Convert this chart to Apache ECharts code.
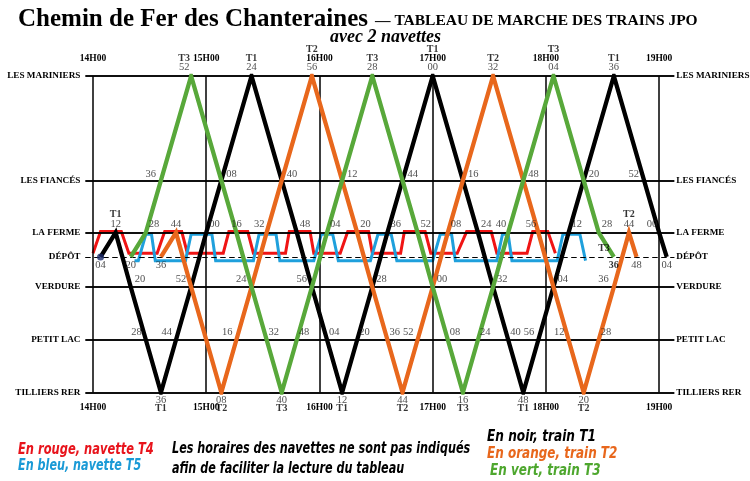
<!DOCTYPE html>
<html><head><meta charset="utf-8">
<script src="https://cdn.jsdelivr.net/npm/echarts@6/dist/echarts.min.js"></script>
<style>html,body{margin:0;padding:0;background:#fff}#c{width:750px;height:481px}</style>
</head><body><div id="c"></div>
<script>
// ---- stations (distance along the line, Tilliers RER = 0) ----
const stationKeys  = ['TIL', 'PL', 'VER', 'DEP', 'FER', 'FIA', 'MAR'];
const stationNames = ['TILLIERS RER', 'PETIT LAC', 'VERDURE', 'DÉPÔT', 'LA FERME', 'LES FIANCÉS', 'LES MARINIERS'];
const stationDist  = [0, 1, 2, 2.57, 3.03, 4.02, 6];
const hourTicks  = ['14:00', '15:00', '16:00', '17:00', '18:00', '19:00'];
const hourLabels = ['14H00', '15H00', '16H00', '17H00', '18H00', '19H00'];

// ---- trains: [time, station] ----
const trainT1 = [['14:04','DEP'],['14:12','FER'],['14:20','VER'],['14:28','PL'],['14:36','TIL'],['14:44','PL'],['14:52','VER'],['15:00','FER'],['15:08','FIA'],['15:24','MAR'],['15:40','FIA'],['15:48','FER'],['15:56','VER'],['16:04','PL'],['16:12','TIL'],['16:20','PL'],['16:28','VER'],['16:36','FER'],['16:44','FIA'],['17:00','MAR'],['17:16','FIA'],['17:24','FER'],['17:32','VER'],['17:40','PL'],['17:48','TIL'],['17:56','PL'],['18:04','VER'],['18:12','FER'],['18:20','FIA'],['18:36','MAR'],['18:52','FIA'],['19:00','FER'],['19:04','DEP']];
const trainT2 = [['14:36','DEP'],['14:44','FER'],['14:52','VER'],['15:00','PL'],['15:08','TIL'],['15:16','PL'],['15:24','VER'],['15:32','FER'],['15:40','FIA'],['15:56','MAR'],['16:12','FIA'],['16:20','FER'],['16:28','VER'],['16:36','PL'],['16:44','TIL'],['16:52','PL'],['17:00','VER'],['17:08','FER'],['17:16','FIA'],['17:32','MAR'],['17:48','FIA'],['17:56','FER'],['18:04','VER'],['18:12','PL'],['18:20','TIL'],['18:28','PL'],['18:36','VER'],['18:44','FER'],['18:48','DEP']];
const trainT3 = [['14:20','DEP'],['14:28','FER'],['14:36','FIA'],['14:52','MAR'],['15:08','FIA'],['15:16','FER'],['15:24','VER'],['15:32','PL'],['15:40','TIL'],['15:48','PL'],['15:56','VER'],['16:04','FER'],['16:12','FIA'],['16:28','MAR'],['16:44','FIA'],['16:52','FER'],['17:00','VER'],['17:08','PL'],['17:16','TIL'],['17:24','PL'],['17:32','VER'],['17:40','FER'],['17:48','FIA'],['18:04','MAR'],['18:20','FIA'],['18:28','FER'],['18:36','DEP']];

// ---- shuttles (times) ----
const shuttleT4 = [['14:00','DEP'],['14:04','FER'],['14:15','FER'],['14:19','DEP'],['14:34','DEP'],['14:38','FER'],['14:47','FER'],['14:50','DEP'],['15:09','DEP'],['15:12','FER'],['15:22','FER'],['15:25','DEP'],['15:42','DEP'],['15:44','FER'],['15:55','FER'],['15:57','DEP'],['16:11','DEP'],['16:15','FER'],['16:26','FER'],['16:28','DEP'],['16:43','DEP'],['16:45','FER'],['16:56','FER'],['16:59','DEP'],['17:13','DEP'],['17:18','FER'],['17:31','FER'],['17:34','DEP'],['17:50','DEP'],['17:53','FER'],['18:01','FER'],['18:05','DEP']];
const shuttleT5 = [['14:22','DEP'],['14:24','DEP'],['14:28','FER'],['14:31','FER'],['14:33','DEP'],['14:49','DEP'],['14:52','FER'],['15:03','FER'],['15:05','DEP'],['15:25','DEP'],['15:28','FER'],['15:37','FER'],['15:39','DEP'],['15:57','DEP'],['16:01','FER'],['16:07','FER'],['16:10','DEP'],['16:27','DEP'],['16:31','FER'],['16:38','FER'],['16:41','DEP'],['17:00','DEP'],['17:04','FER'],['17:10','FER'],['17:12','DEP'],['17:34','DEP'],['17:37','FER'],['17:40','FER'],['17:42','DEP'],['18:06','DEP'],['18:09','FER'],['18:18','FER'],['18:21','DEP']];

// ---- printed passing times ----
const labelsFIA = ['14:36','15:08','15:40','16:12','16:44','17:16','17:48','18:20','18:52'];
const labelsFER = ['14:12','14:28','14:44','15:00','15:16','15:32','15:48','16:04','16:20','16:36','16:52','17:08','17:24','17:40','17:56','18:12','18:28','18:44','19:00'];
const labelsVER = ['14:20','14:52','15:24','15:56','16:28','17:00','17:32','18:04','18:36'];
const labelsPL  = ['14:28','14:44','15:16','15:32','15:48','16:04','16:20','16:36','16:52','17:08','17:24','17:40','17:56','18:12','18:28'];
const labelsDEP = ['14:04','14:20','14:36','18:36','18:48','19:04'];
const labelsMAR = [['14:52','T3'],['15:24','T1'],['15:56','T2'],['16:28','T3'],['17:00','T1'],['17:32','T2'],['18:04','T3'],['18:36','T1']];
const labelsTIL = [['14:36','T1'],['15:08','T2'],['15:40','T3'],['16:12','T1'],['16:44','T2'],['17:16','T3'],['17:48','T1'],['18:20','T2']];
const trainTags = [['14:12','FER','T1'],['18:44','FER','T2'],['18:36','DEP','T3']];

// ---- layout helpers (label sides: -1 left, 0 centre, 1 right) ----
const sideOf = {
  FIA: {'14:36':-1,'18:52':-1},
  FER: {'14:12':0,'14:44':0,'15:16':0,'18:44':0,'15:32':-1,'17:40':-1,'17:56':-1,'19:00':-1},
  VER: {'14:52':-1,'15:24':-1,'15:56':-1,'18:36':-1},
  PL:  {'14:28':-1,'14:44':-1,'15:16':-1,'16:52':-1,'17:56':-1,'18:12':-1}
};
const min = s => { const [h, mm] = s.split(':').map(Number); return (h - 14) * 60 + mm; };
const dist = k => stationDist[stationKeys.indexOf(k)];
const mm = s => s.split(':')[1];
const SERIF = "'Liberation Serif','Times New Roman',serif";
const NARROW = "'Liberation Sans Narrow','Arial Narrow','DejaVu Sans Condensed',sans-serif";

const labelItems = [];
function addLabel(t, k, text, align, va, dx, dy, bold) {
  labelItems.push({ value: [min(t), dist(k)], label: {
    show: true, formatter: text, position: 'inside', align: align, verticalAlign: va,
    offset: [dx, dy], fontFamily: SERIF, fontSize: bold ? 10 : 10.5,
    fontWeight: bold ? 'bold' : 'normal', color: bold ? '#000' : '#222' } });
}
function sideLabel(st, list, dxR, dxL, dy) {
  list.forEach(t => {
    const s = (sideOf[st] && sideOf[st][t] !== undefined) ? sideOf[st][t] : 1;
    if (s === 1) addLabel(t, st, mm(t), 'left', 'bottom', dxR, dy);
    else if (s === -1) addLabel(t, st, mm(t), 'right', 'bottom', dxL, dy);
    else addLabel(t, st, mm(t), 'center', 'bottom', 0, dy);
  });
}
sideLabel('FIA', labelsFIA, 5, -5, -1);
sideLabel('FER', labelsFER, 3, -2, -3);
sideLabel('VER', labelsVER, 4, -5, -2);
sideLabel('PL', labelsPL, 2, -4, -2);
labelsDEP.forEach(t => addLabel(t, 'DEP', mm(t), 'center', 'top', 0, 3, t === '18:36'));
const nearHour = t => hourTicks.some(h => Math.abs(min(h) - min(t)) <= 4);
labelsMAR.forEach(([t, tr]) => {
  const dx = min(t) % 60 > 45 && !nearHour(t) ? -7 : 0;
  addLabel(t, 'MAR', mm(t), 'center', 'bottom', dx, -3);
  addLabel(t, 'MAR', tr, 'center', 'bottom', dx, nearHour(t) ? -22 : -13, true);
});
labelsTIL.forEach(([t, tr]) => {
  addLabel(t, 'TIL', mm(t), 'center', 'top', 0, 2);
  addLabel(t, 'TIL', tr, 'center', 'top', 0, 11, true);
});
trainTags.forEach(([t, k, tr]) => {
  if (k === 'DEP') addLabel(t, k, tr, 'right', 'bottom', -4, -4, true);
  else addLabel(t, k, tr, 'center', 'bottom', 0, -13, true);
});

const stationLabelStyle = { fontFamily: SERIF, fontWeight: 'bold', fontSize: 9.2, color: '#000' };
function stationLines(side) {
  return stationKeys.map((k, i) => ({
    yAxis: stationDist[i],
    lineStyle: { color: '#000', width: k === 'DEP' ? 1.2 : 1.5, type: k === 'DEP' ? [5, 4] : 'solid' },
    label: Object.assign({ show: true, position: side, distance: side === 'start' ? 5 : 2, formatter: stationNames[i] }, stationLabelStyle)
  }));
}
function shuttle(arr, hi, lo) {
  return arr.map(([t, k]) => [min(t), k === 'FER' ? hi : lo]);
}
function train(name, arr, color, z) {
  return { type: 'line', name, data: arr.map(([t, k]) => [min(t), dist(k)]), symbol: 'none', z,
    lineStyle: { color, width: 4.3, join: 'miter', miterLimit: 10, cap: 'butt' }, silent: true };
}
const axisBase = { type: 'value', min: -4, max: 308, axisLine: { show: false }, axisTick: { show: false },
  splitLine: { show: false } };
function txt(x, y, text, size, color, sx, font) {
  return { type: 'text', x, y, scaleX: sx, silent: true,
    style: { text, font: font || ("italic bold " + size + "px " + NARROW), fill: color,
      textAlign: 'left', textVerticalAlign: 'middle', align: 'left', verticalAlign: 'middle' } };
}

const chart = echarts.init(document.getElementById('c'), null, { renderer: 'canvas' });
chart.setOption({
  animation: false,
  backgroundColor: '#fff',
  grid: { left: 85.45, top: 76, width: 588.8, height: 316.5 },
  xAxis: [
    Object.assign({}, axisBase, { position: 'bottom', axisLabel: { customValues: hourTicks.map(min), margin: 10,
      formatter: v => hourLabels[v / 60], fontFamily: SERIF, fontWeight: 'bold', fontSize: 9.5, color: '#000' } }),
    Object.assign({}, axisBase, { position: 'top', axisLabel: { customValues: hourTicks.map(min), margin: 12,
      formatter: v => hourLabels[v / 60], fontFamily: SERIF, fontWeight: 'bold', fontSize: 9.5, color: '#000' } })
  ],
  yAxis: { type: 'value', min: 0, max: 6, show: false },
  series: [
    { type: 'line', data: [], z: 1, markLine: { silent: true, symbol: ['none', 'none'], animation: false,
        data: stationLines('start').concat(hourTicks.map(h => ({ xAxis: min(h), label: { show: false },
          lineStyle: { color: '#000', width: 1.5, type: 'solid' } }))) } },
    { type: 'line', data: [], z: 1, markLine: { silent: true, symbol: ['none', 'none'], animation: false,
        data: stationLines('end') } },
    { type: 'line', name: 'T4', data: shuttle(shuttleT4, 3.05, 2.64), symbol: 'none', z: 3, silent: true,
      lineStyle: { color: '#f01414', width: 3, join: 'miter' } },
    { type: 'line', name: 'T5', data: shuttle(shuttleT5, 3.0, 2.5), symbol: 'none', z: 3, silent: true,
      lineStyle: { color: '#1fa0dc', width: 3, join: 'miter' } },
    train('T1', trainT1, '#000000', 4),
    train('T2', trainT2, '#e8671c', 5),
    train('T3', trainT3, '#58a83a', 6),
    { type: 'scatter', data: [[min(trainT1[0][0]), dist(trainT1[0][1])]], symbolSize: 7, z: 7, silent: true,
      itemStyle: { color: '#1b2a6b' } },
    { type: 'scatter', data: labelItems, symbolSize: 0.1, z: 8, silent: true,
      itemStyle: { color: 'rgba(0,0,0,0)' } }
  ],
  graphic: [
    txt(18, 20, 'Chemin de Fer des Chanteraines', 25, '#000', 1, "bold 25px " + SERIF),
    txt(375, 21, '— TABLEAU DE MARCHE DES TRAINS JPO', 15.5, '#000', 1, "bold 15.5px " + SERIF),
    txt(330, 37, 'avec 2 navettes', 18, '#000', 1, "italic bold 18px " + SERIF),
    txt(18, 450, 'En rouge, navette T4', 15, '#e8141c', 0.85),
    txt(18, 466, 'En bleu, navette T5', 15, '#1a9ad6', 0.83),
    txt(172, 449, 'Les horaires des navettes ne sont pas indiqués', 15, '#000', 0.83),
    txt(172, 469, 'afin de faciliter la lecture du tableau', 15, '#000', 0.83),
    txt(487, 437, 'En noir, train T1', 15, '#000', 0.9),
    txt(487, 454, 'En orange, train T2', 15, '#e8671c', 0.89),
    txt(490, 471, 'En vert, train T3', 15, '#4ea72e', 0.89)
  ]
});
</script></body></html>
